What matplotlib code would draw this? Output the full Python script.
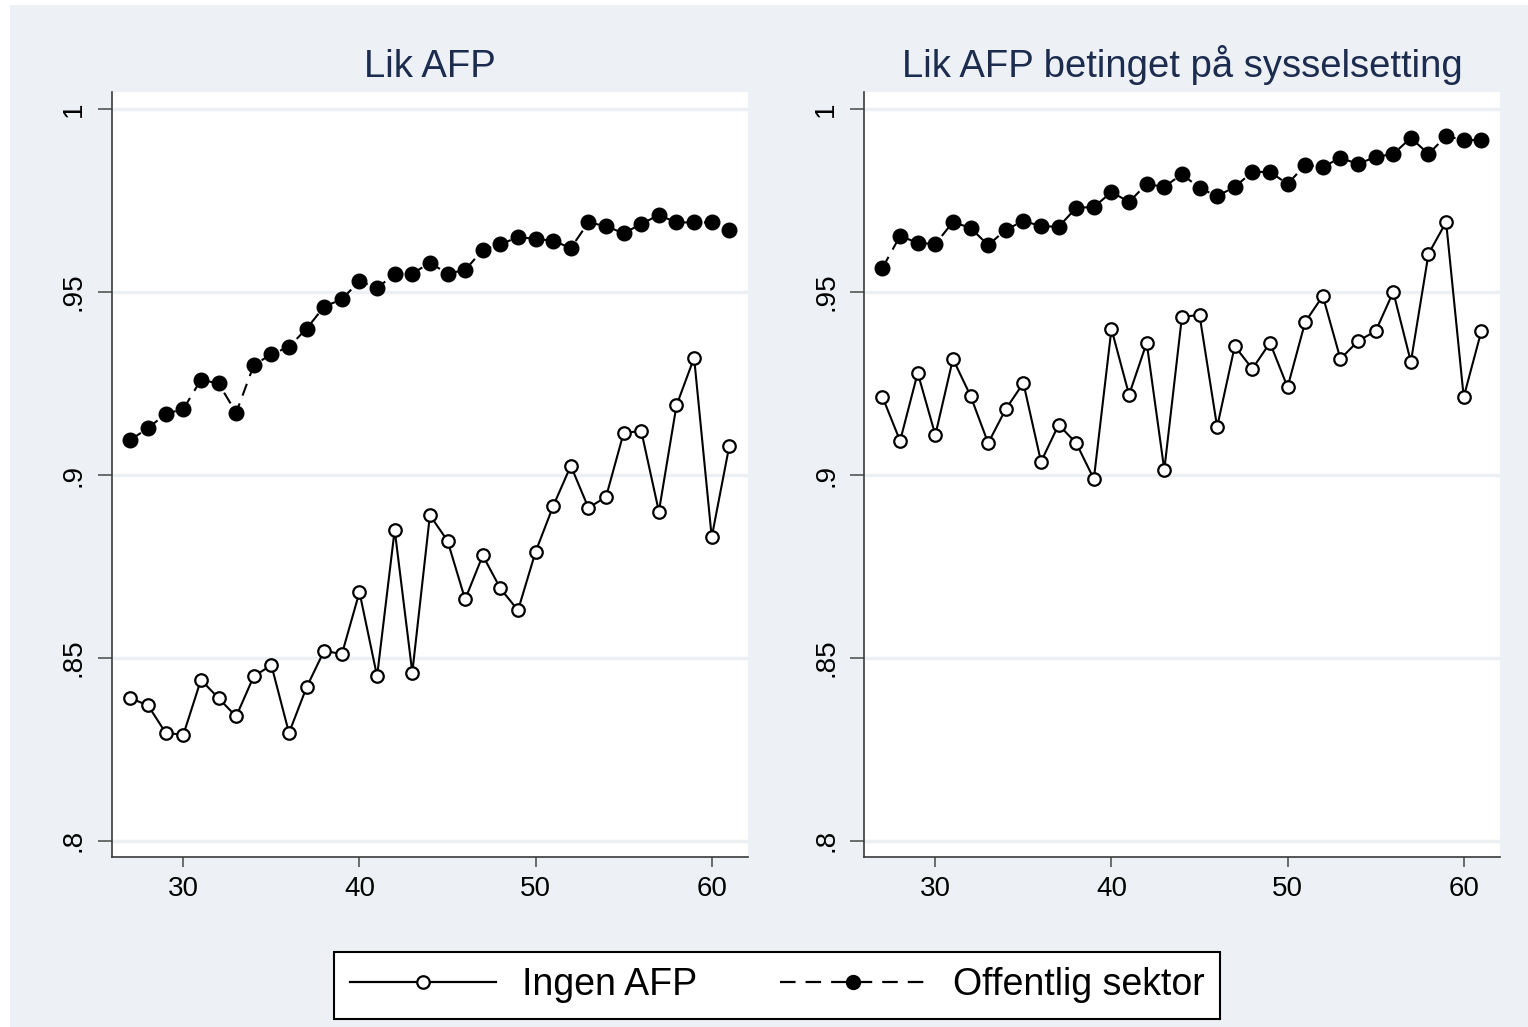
import numpy as np
import matplotlib.pyplot as plt
from matplotlib.lines import Line2D

plt.rcParams['font.family'] = ['Liberation Sans', 'DejaVu Sans']

ages = list(range(27, 62))

# Lik AFP
ingen_lik = [0.839, 0.837, 0.8295, 0.829, 0.844, 0.839, 0.834, 0.845, 0.848, 0.8295,
             0.842, 0.852, 0.851, 0.868, 0.845, 0.885, 0.846, 0.889, 0.882, 0.866,
             0.878, 0.869, 0.863, 0.879, 0.8915, 0.9025, 0.891, 0.894, 0.9115, 0.912,
             0.890, 0.919, 0.932, 0.883, 0.908]
off_lik = [0.9096, 0.9128, 0.9167, 0.918, 0.926, 0.925, 0.917, 0.930, 0.933, 0.935,
           0.940, 0.946, 0.948, 0.953, 0.951, 0.955, 0.955, 0.958, 0.955, 0.956,
           0.9615, 0.963, 0.965, 0.9645, 0.964, 0.962, 0.969, 0.968, 0.966, 0.9686,
           0.971, 0.969, 0.969, 0.969, 0.967]

# Lik AFP betinget på sysselsetting
ingen_bet = [0.9213, 0.9093, 0.9279, 0.9109, 0.9317, 0.9216, 0.9087, 0.918, 0.9251, 0.9036,
             0.9137, 0.9087, 0.8989, 0.9399, 0.9219, 0.9361, 0.9014, 0.9432, 0.9437, 0.9131,
             0.9352, 0.929, 0.9361, 0.924, 0.9418, 0.9489, 0.9317, 0.9366, 0.9393, 0.950,
             0.9309, 0.9604, 0.9691, 0.9213, 0.9393]
off_bet = [0.9566, 0.9653, 0.9634, 0.9631, 0.9691, 0.9675, 0.9628, 0.967, 0.9694, 0.968,
           0.9678, 0.973, 0.9732, 0.9773, 0.9746, 0.9795, 0.9787, 0.9822, 0.9784, 0.9762,
           0.9787, 0.9828, 0.9828, 0.9795, 0.9847, 0.9842, 0.9866, 0.985, 0.9869, 0.9877,
           0.9921, 0.9877, 0.9926, 0.9915, 0.9915]

titles = ['Lik AFP', 'Lik AFP betinget på sysselsetting']
yticks = [0.8, 0.85, 0.9, 0.95, 1.0]
ytick_labels = ['.8', '.85', '.9', '.95', '1']
xticks = [30, 40, 50, 60]
legend_labels = ['Ingen AFP', 'Offentlig sektor']

bg = '#edf1f6'
title_col = '#1c2c4f'
W, H = 1528, 1027
fig = plt.figure(figsize=(W / 100, H / 100), dpi=100, facecolor='white')
fig.patches.append(plt.Rectangle((10 / W, 0), 1 - 10 / W, 1 - 5 / H, transform=fig.transFigure,
                                 facecolor=bg, edgecolor='none', zorder=-5))

panels = [(112, ingen_lik, off_lik), (864, ingen_bet, off_bet)]
for (x0, ingen, off), title in zip(panels, titles):
    ax = fig.add_axes([x0 / W, 1 - 857 / H, 636 / W, 765 / H])
    ax.set_facecolor('white')
    ax.plot(ages, ingen, color='black', lw=1.5, marker='o', ms=9, mfc='white',
            mec='black', mew=1.6, zorder=3)
    ax.plot(ages, off, color='black', lw=1.5, ls=(0, (6, 4)), marker='o', ms=10.5,
            mfc='black', mec='black', zorder=3)
    ax.set_xlim(25.95, 62.06)
    ax.set_ylim(0.7956, 1.00464)
    ax.set_yticks(yticks)
    ax.set_yticklabels(ytick_labels, rotation=90, va='center')
    ax.set_xticks(xticks)
    ax.grid(axis='y', color='#ecf0f5', lw=2.5, zorder=0)
    ax.set_axisbelow(True)
    for s in ['top', 'right']:
        ax.spines[s].set_visible(False)
    for s in ['left', 'bottom']:
        ax.spines[s].set_color('#3a3a3a')
        ax.spines[s].set_linewidth(1.2)
    ax.tick_params(axis='both', labelsize=20, width=1.2, color='#555555', labelcolor='black')
    ax.tick_params(axis='x', length=7.5, pad=6)
    ax.tick_params(axis='y', length=10, pad=8)
    ax.set_title(title, fontsize=27.5, color=title_col, pad=11)

handles = [Line2D([], [], color='black', lw=1.6, marker='o', ms=9, mfc='white', mew=1.6),
           Line2D([], [], color='black', lw=1.6, ls=(0, (7, 4.5)), marker='o', ms=10, mfc='black')]
leg = fig.legend(handles, legend_labels, loc='center', bbox_to_anchor=(0.5085, 0.0405), ncol=2,
                 fontsize=27, frameon=True, fancybox=False, edgecolor='black', facecolor='white',
                 framealpha=1, handlelength=3.9, handletextpad=0.7, columnspacing=2.2,
                 borderpad=0.42)
leg.get_frame().set_linewidth(1.5)

fig.savefig('out.png', dpi=100, facecolor=fig.get_facecolor())
